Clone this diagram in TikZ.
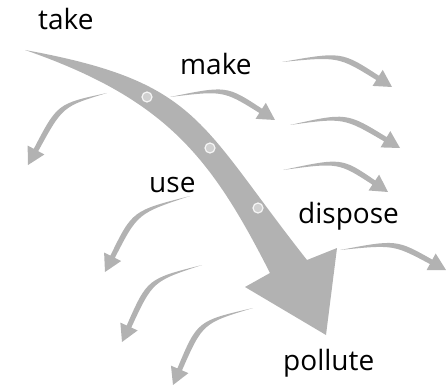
\documentclass[tikz,border=0pt]{standalone}
\usepackage{fontspec}
\setmainfont{Open Sans}
\usepackage{tikz}
\usetikzlibrary{calc}

\definecolor{flowgray}{RGB}{178,178,178}
\definecolor{dotgray}{RGB}{208,208,208}

\begin{document}
\begin{tikzpicture}[x=1pt, y=-1pt,
		word_style/.style={inner sep=0pt, anchor=base west, text=black, font=\fontsize{28}{34}\selectfont},
		flow_style/.style={fill=flowgray},
		dot_style/.style={circle, fill=dotgray, draw=white!92!gray, line width=1.2pt, inner sep=0pt, minimum size=10pt}]
		
		\useasboundingbox (0,0) rectangle (446,390);
		
		% main arrow
		\fill[flow_style] (25,50) .. controls (200,82) and (198,122) .. (307,260)
			-- (337,248) -- (326,335) -- (245,287) -- (270,273)
			.. controls (211,157) and (166,99) .. (25,50) -- cycle;
		
		\node[dot_style] (d1) at (147,97)  {};
		\node[dot_style] (d2) at (210,148) {};
		\node[dot_style] (d3) at (258,208) {};
		
		% small arrows: start, bend, tip
		\coordinate (s1) at (282,62);  \coordinate (c1) at (340,54);  \coordinate (t1) at (392,87);
		\coordinate (s2) at (170,97);  \coordinate (c2) at (225,88);  \coordinate (t2) at (275,120);
		\coordinate (s3) at (290,125); \coordinate (c3) at (345,115); \coordinate (t3) at (400,148);
		\coordinate (s4) at (283,170); \coordinate (c4) at (340,160); \coordinate (t4) at (388,192);
		\coordinate (s5) at (107,93);  \coordinate (c5) at (60,105);  \coordinate (t5) at (28,165);
		\coordinate (s6) at (190,196); \coordinate (c6) at (135,212); \coordinate (t6) at (105,272);
		\coordinate (s7) at (202,265); \coordinate (c7) at (150,280); \coordinate (t7) at (122,342);
		\coordinate (s8) at (253,308); \coordinate (c8) at (200,322); \coordinate (t8) at (173,385);
		\coordinate (s9) at (340,250); \coordinate (c9) at (395,242); \coordinate (t9) at (446,270);
		
		\foreach \i in {1,...,9} {
			\coordinate (b\i) at ($(t\i)!17pt!(c\i)$);
			\fill[flow_style] (s\i) .. controls ($(c\i)!3pt!-90:(t\i)$) .. ($(b\i)!2.5pt!90:(c\i)$)
				-- ($(b\i)!9.5pt!90:(c\i)$) -- (t\i) -- ($(b\i)!9.5pt!-90:(c\i)$)
				-- ($(b\i)!2.5pt!-90:(c\i)$) .. controls ($(c\i)!3pt!90:(t\i)$) .. (s\i) -- cycle;
		}
		
		\node[word_style] (take)    at (38,30)   {take};
		\node[word_style] (make)    at (180,75)  {make};
		\node[word_style] (use)     at (149,192) {use};
		\node[word_style] (dispose) at (298,223) {dispose};
		\node[word_style] (pollute) at (283,370) {pollute};
\end{tikzpicture}
\end{document}
